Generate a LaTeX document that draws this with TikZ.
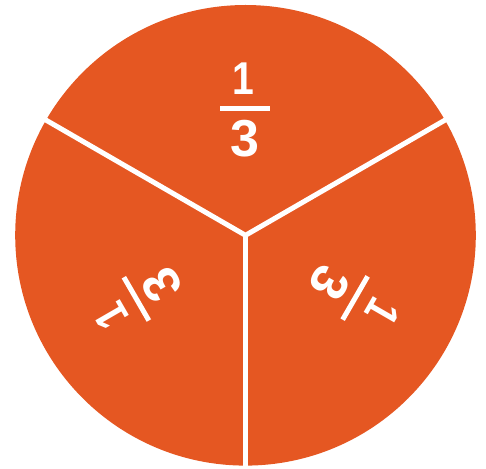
\documentclass[tikz,border=0pt]{standalone}
\usepackage{fontspec}
\setmainfont{Liberation Sans}
\definecolor{pieorange}{RGB}{229,87,34}
\tikzset{
  digit/.style={text=white, inner sep=0pt, anchor=base, font=\bfseries\fontsize{46}{46}\selectfont},
  bigdigit/.style={text=white, inner sep=0pt, anchor=base, font=\bfseries\fontsize{52}{52}\selectfont},
  fracbar/.style={white, line width=5pt},
  divider/.style={white, line width=5pt}
}
\begin{document}
\begin{tikzpicture}[x=1pt,y=1pt]
\useasboundingbox (-245.5,-232.7) rectangle (240.5,235.3);
\fill[pieorange] (0,0) circle (230.3);
\draw[divider] (150:231) -- (0,0) -- (30:231);
\draw[divider] (0,0) -- (270:231);
\foreach \ang/\nm in {0/top,120/left,-120/right}{
  \begin{scope}[rotate=\ang, transform shape]
    \node[digit, xscale=0.85] (\nm one) at (-2.5,141) {1};
    \draw[fracbar] (-25.5,126.3) -- (24.5,126.3);
    \node[bigdigit] (\nm three) at (-1,79.1) {3};
  \end{scope}
}
\end{tikzpicture}
\end{document}
